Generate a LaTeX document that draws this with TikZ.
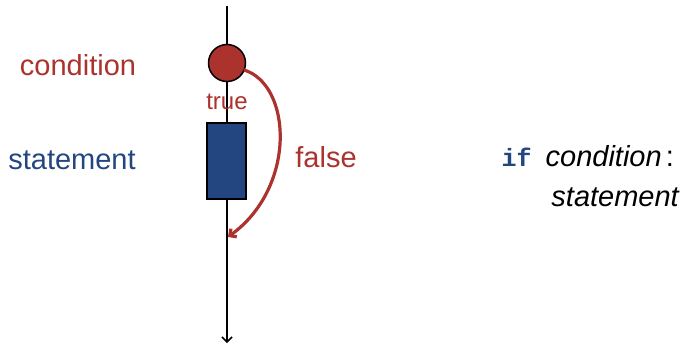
\documentclass[tikz,border=0pt]{standalone}
\usepackage{fontspec}
\setmainfont{Liberation Sans}
\newfontfamily\codefont{Liberation Mono}
\usetikzlibrary{arrows.meta}
\definecolor{condred}{RGB}{172,50,46}
\definecolor{stmtblue}{RGB}{36,70,128}
\tikzset{>={Straight Barb[length=5pt,width=10pt]}, line width=1.5pt}
\tikzset{
  flow/.style={draw=black, line width=1.5pt},
  test/.style={circle, draw=black, line width=1.5pt, fill=condred, minimum size=37pt, inner sep=0pt},
  body/.style={rectangle, draw=black, line width=1.5pt, fill=stmtblue, minimum width=39pt, minimum height=76pt, inner sep=0pt},
  word/.style={font=\fontsize{29}{34}\selectfont, inner sep=0pt}
}

\begin{document}
\begin{tikzpicture}[x=1pt,y=1pt]
  \useasboundingbox (0,0) rectangle (684,346);

  % main line of control
  \coordinate (top) at (227,340);
  \coordinate (bot) at (227,3);
  \draw[->, flow] (top) -- (bot);

  % test and body
  \node[test] (cond) at (227,283) {};
  \node[body] (stmt) at (226.5,185) {};
  \node[word, text=condred, font=\fontsize{24}{28}\selectfont] (true) at (227,244) {true};

  % skipping branch
  \coordinate (join) at (228,109);
  \draw[->, condred, line width=3.2pt, shorten <=-1pt]
    (cond.-22) to[out=-17, in=36, out looseness=0.75, in looseness=1.3] (join);
  \node[word, text=condred] (false) at (326,189) {false};

  % legend on the left
  \node[word, text=condred] (lcond) at (78,281) {condition};
  \node[word, text=stmtblue] (lstmt) at (72,186) {statement};

  % code on the right
  \node[word, anchor=base east] (code) at (674,180)
    {\textcolor{stmtblue}{\codefont\bfseries\fontsize{25}{30}\selectfont if}\hspace{14pt}\textit{condition}\hspace{4pt}:};
  \node[word, anchor=base east] (codebody) at (680,140) {\textit{statement}};
\end{tikzpicture}
\end{document}
